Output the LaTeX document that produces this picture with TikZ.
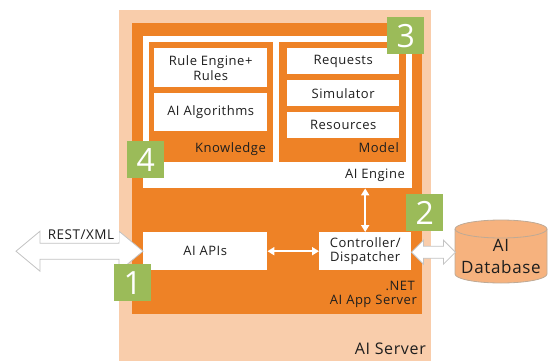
\documentclass[tikz,border=0pt]{standalone}
\usepackage{fontspec}
\setmainfont{Open Sans}[LetterSpace=4]
\usetikzlibrary{arrows.meta,calc}

\definecolor{peach}{RGB}{249,205,171}
\definecolor{orng}{RGB}{238,130,38}
\definecolor{leaf}{RGB}{155,187,89}
\definecolor{dbfill}{RGB}{246,178,126}
\definecolor{dbrim}{RGB}{190,170,150}
\definecolor{ink}{RGB}{30,30,30}
\definecolor{rim}{RGB}{195,195,195}

\begin{document}
\begin{tikzpicture}[x=1pt,y=-1pt,
  font=\fontsize{13}{15}\selectfont, text=ink,
  panel/.style={fill=#1, inner sep=0pt, anchor=north west},
  cell/.style={fill=white, inner sep=0pt, anchor=north west, align=center},
  badge/.style={fill=leaf, minimum size=37pt, inner sep=0pt, anchor=north west,
    text=white, font=\fontsize{32}{32}\selectfont},
  caption/.style={anchor=base east, inner sep=0pt},
  link/.style={white, line width=1.8pt,
    {Triangle[width=8pt,length=7pt]}-{Triangle[width=8pt,length=7pt]}},
  hollow/.style={fill=white, draw=rim, line width=0.8pt, line join=miter}]

\useasboundingbox (0,0) rectangle (548,361);

% server and application server frames
\fill[peach] (119,10) rectangle (431,361);
\fill[orng] (132,23) rectangle (422,314);

% AI engine with its knowledge and model parts
\node[cell, minimum width=269pt, minimum height=152pt] (engine) at (143,36) {};
\node[panel=orng, minimum width=124pt, minimum height=120pt] (know) at (149,42) {};
\node[panel=orng, minimum width=127pt, minimum height=120pt] (model) at (279,42) {};

\node[cell, minimum width=113pt, minimum height=39pt] (rules) at (154,48) {Rule Engine+\\Rules};
\node[cell, minimum width=113pt, minimum height=38pt] (algo) at (154,93) {AI Algorithms};

\node[cell, minimum width=112pt, minimum height=26pt] (req) at (287,48) {Requests};
\node[cell, minimum width=112pt, minimum height=26pt] (sim) at (287,80) {Simulator};
\node[cell, minimum width=112pt, minimum height=26pt] (res) at (287,112) {Resources};

\node[caption] at (266,152) {Knowledge};
\node[caption] at (399,152) {Model};
\node[caption] at (405,178) {AI Engine};

% application server parts
\node[cell, minimum width=124pt, minimum height=38pt] (apis) at (143,232) {AI APIs};
\node[cell, minimum width=92pt, minimum height=38pt, font=\fontsize{13}{14.5}\selectfont] (ctrl) at (319,232) {Controller/\\Dispatcher};

\node[caption] at (415,290) {.NET};
\node[caption] at (417,304) {AI App Server};
\node[caption, font=\fontsize{16}{18}\selectfont] at (426,354) {AI Server};

\draw[link] (apis.east) -- (ctrl.west);
\draw[link] (ctrl.north) -- (ctrl.north |- engine.south);

% REST/XML block arrow into the APIs
\begin{scope}[shift={(apis.west)}]
  \draw[hollow] (-127,0) -- (-103,-20) -- (-103,-8) -- (-24,-8) -- (-24,-20) -- (0,0)
    -- (-24,20) -- (-24,8) -- (-103,8) -- (-103,20) -- cycle;
\end{scope}
\node[fill=white, inner sep=1pt, minimum width=76pt, minimum height=14pt,
  font=\fontsize{13.5}{15}\selectfont] (rest) at (81,235) {REST/XML};

% database with its block arrow
\filldraw[fill=dbfill, draw=dbrim, line width=0.8pt]
  (455,229) -- (455,274) arc[start angle=180, end angle=0, x radius=46, y radius=9]
  -- (547,229) arc[start angle=0, end angle=-180, x radius=46, y radius=9] -- cycle;
\draw[dbrim, line width=0.8pt] (455,229) arc[start angle=180, end angle=0, x radius=46, y radius=9];
\node[align=center, font=\fontsize{17}{22}\selectfont] (db) at (501,256) {AI\\Database};

\begin{scope}[shift={(ctrl.east)}]
  \draw[hollow] (0,1) -- (12,-11) -- (12,-5) -- (32,-5) -- (32,-11) -- (44,1)
    -- (32,13) -- (32,7) -- (12,7) -- (12,13) -- cycle;
\end{scope}

% numbered markers
\node[badge] (b3) at (387,17) {3};
\node[badge] (b4) at (127,141) {4};
\node[badge] (b1) at (114,264) {1};
\node[badge] (b2) at (406,194) {2};
\end{tikzpicture}
\end{document}
